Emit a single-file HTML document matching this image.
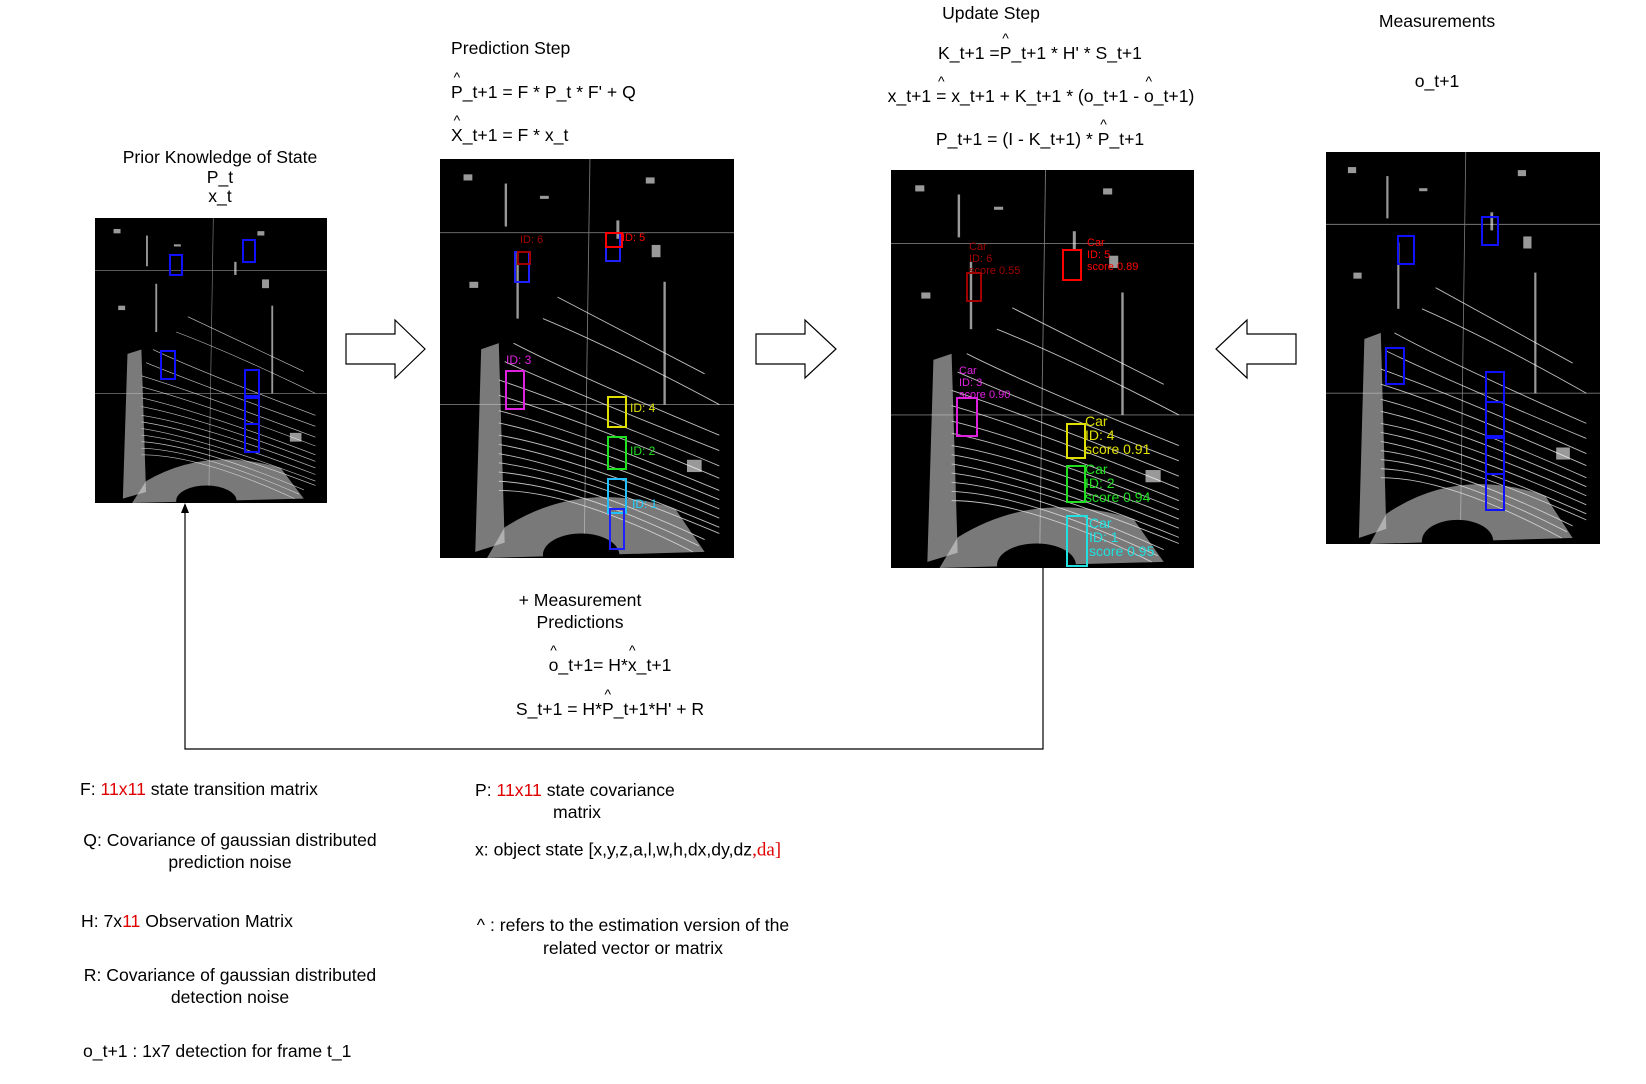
<!DOCTYPE html>
<html><head><meta charset="utf-8"><style>
html,body{margin:0;padding:0;background:#fff}
body{width:1646px;height:1084px;position:relative;overflow:hidden;font-family:"Liberation Sans",sans-serif;font-size:17.6px;color:#000}
.t{position:absolute;white-space:nowrap;line-height:1}
.c{transform:translate(-50%,-50%)}
.l{transform:translateY(-50%)}
.h{position:relative;display:inline-block}
.h::before{content:"^";position:absolute;left:50%;top:-14px;transform:translateX(-50%);font-size:14px}
.r{color:#e00000}
.img{position:absolute;background:#000}
.img svg{display:block}
.lb{font-family:"Liberation Sans",sans-serif}
</style></head><body>
<svg width="0" height="0" style="position:absolute">
<defs>
<symbol id="lidar" viewBox="0 0 100 130" preserveAspectRatio="none">
<rect width="100" height="130" fill="#000"/>
<g stroke="#777" stroke-width="0.3" fill="none">
<line x1="0" y1="24" x2="100" y2="24"/><line x1="0" y1="80" x2="100" y2="80"/>
<line x1="51" y1="0" x2="49" y2="130"/>
</g>
<g stroke="#fff" stroke-width="0.3" fill="none" opacity="0.75">
<path d="M25 60 Q45 70 95 90"/><path d="M22 66 Q45 76 95 95"/><path d="M20 72 Q45 80 95 100"/><path d="M20 77 Q45 84 95 104"/><path d="M20 82 Q45 88 95 108"/><path d="M20 86 Q45 91 95 111"/><path d="M20 90 Q45 94 95 114"/><path d="M20 93 Q45 97 95 117"/><path d="M20 96 Q45 100 95 120"/><path d="M20 99 Q45 102 95 122"/><path d="M20 102 Q45 104 90 124"/><path d="M20 105 Q45 106 88 126"/><path d="M20 108 Q45 108 86 128"/>
<path d="M40 45 Q60 55 90 70"/><path d="M35 52 Q60 62 95 80"/>
</g>
<path d="M14 62 L20 60 L22 125 L12 128 Z" fill="#ccc" opacity="0.6"/>
<path d="M22 120 Q48 104 80 114 L90 128 L16 130 Z" fill="#ddd" opacity="0.55"/>
<ellipse cx="48" cy="129" rx="13" ry="7" fill="#000"/>
<g fill="#fff" opacity="0.6">
<rect x="8" y="5" width="3" height="2"/><rect x="22" y="8" width="0.8" height="14"/><rect x="34" y="12" width="3" height="1"/><rect x="70" y="6" width="3" height="2"/><rect x="72" y="28" width="3" height="4"/><rect x="26" y="30" width="0.8" height="22"/><rect x="76" y="40" width="0.8" height="40"/><rect x="84" y="98" width="5" height="4"/><rect x="10" y="40" width="3" height="2"/><rect x="60" y="20" width="1" height="6"/>
</g>
</symbol>
</defs>
</svg>

<div class="img" style="left:95px;top:218px;width:232px;height:285px">
<svg width="232" height="285"><use href="#lidar" width="232" height="285"/>
<g stroke="#1010ff" stroke-width="2" fill="none">
<rect x="75" y="37" width="12" height="20"/><rect x="148" y="22" width="12" height="22"/>
<rect x="66" y="133" width="14" height="28"/><rect x="150" y="152" width="14" height="26"/><rect x="150" y="180" width="14" height="26"/><rect x="150" y="206" width="14" height="28"/></g></svg></div>

<div class="img" style="left:440px;top:159px;width:294px;height:399px">
<svg width="294" height="399"><use href="#lidar" width="294" height="399"/>
<g fill="none" stroke-width="2">
<rect x="75" y="93" width="14" height="30" stroke="#2020ff"/><rect x="78" y="93" width="12" height="12" stroke="#a00000"/>
<rect x="166" y="74" width="14" height="28" stroke="#2020ff"/><rect x="166" y="74" width="16" height="14" stroke="#ff0000"/>
<rect x="66" y="212" width="18" height="38" stroke="#e020e0"/>
<rect x="168" y="238" width="18" height="30" stroke="#e0e000"/><rect x="168" y="278" width="18" height="32" stroke="#20e020"/><rect x="168" y="320" width="18" height="34" stroke="#20c0ff"/><rect x="170" y="350" width="14" height="40" stroke="#2020ff"/></g>
<g class="lb" font-size="12"><text x="80" y="84" fill="#a00000" font-size="11">ID: 6</text><text x="182" y="82" fill="#ff0000" font-size="11">ID: 5</text><text x="66" y="205" fill="#e020e0">ID: 3</text><text x="190" y="253" fill="#e0e000">ID: 4</text><text x="190" y="296" fill="#20e020">ID: 2</text><text x="192" y="349" fill="#20d0ff">ID: 1</text></g></svg></div>

<div class="img" style="left:891px;top:170px;width:303px;height:398px">
<svg width="303" height="398"><use href="#lidar" width="303" height="398"/>
<g fill="none" stroke-width="2">
<rect x="76" y="103" width="14" height="28" stroke="#a00000"/><rect x="172" y="80" width="18" height="30" stroke="#ff0000"/>
<rect x="66" y="228" width="20" height="38" stroke="#e020e0"/>
<rect x="176" y="254" width="18" height="34" stroke="#e0e000"/><rect x="176" y="296" width="18" height="36" stroke="#20e020"/><rect x="176" y="346" width="20" height="50" stroke="#20e0e0"/></g>
<g class="lb" font-size="11"><text x="78" y="80" fill="#a00000">Car</text><text x="78" y="92" fill="#a00000">ID: 6</text><text x="78" y="104" fill="#a00000">score 0.55</text>
<text x="196" y="76" fill="#ff0000">Car</text><text x="196" y="88" fill="#ff0000">ID: 5</text><text x="196" y="100" fill="#ff0000">score 0.89</text>
<text x="68" y="204" fill="#e020e0">Car</text><text x="68" y="216" fill="#e020e0">ID: 3</text><text x="68" y="228" fill="#e020e0">score 0.90</text></g>
<g class="lb" font-size="14"><text x="194" y="256" fill="#e0e000">Car</text><text x="194" y="270" fill="#e0e000">ID: 4</text><text x="194" y="284" fill="#e0e000">score 0.91</text>
<text x="194" y="304" fill="#20e020">Car</text><text x="194" y="318" fill="#20e020">ID: 2</text><text x="194" y="332" fill="#20e020">score 0.94</text>
<text x="198" y="358" fill="#20e0e0">Car</text><text x="198" y="372" fill="#20e0e0">ID: 1</text><text x="198" y="386" fill="#20e0e0">score 0.95</text></g></svg></div>

<div class="img" style="left:1326px;top:152px;width:274px;height:392px">
<svg width="274" height="392"><use href="#lidar" width="274" height="392"/>
<g stroke="#1010ff" stroke-width="2" fill="none">
<rect x="72" y="84" width="16" height="28"/><rect x="156" y="65" width="16" height="28"/>
<rect x="60" y="196" width="18" height="36"/><rect x="160" y="220" width="18" height="30"/><rect x="160" y="250" width="18" height="34"/><rect x="160" y="286" width="18" height="36"/><rect x="160" y="322" width="18" height="36"/></g></svg></div>

<svg style="position:absolute;left:0;top:0" width="1646" height="1084">
<g fill="#fff" stroke="#000" stroke-width="1.2">
<path d="M346 334 H395 V320 L425 349 L395 378 V364 H346 Z"/>
<path d="M756 334 H805 V320 L836 349 L805 378 V364 H756 Z"/>
<path d="M1296 334 H1247 V320 L1216 349 L1247 378 V364 H1296 Z"/>
</g>
<polyline points="1043,568 1043,749 185,749 185,512" fill="none" stroke="#000" stroke-width="1.2"/>
<path d="M185 503 L181 513 L189 513 Z" fill="#000"/>
</svg>

<div class="t c" style="left:220px;top:158px">Prior Knowledge of State</div>
<div class="t c" style="left:220px;top:178px">P_t</div>
<div class="t c" style="left:220px;top:197px">x_t</div>

<div class="t l" style="left:451px;top:49px">Prediction Step</div>
<div class="t l" style="left:451px;top:93px"><span class="h">P</span>_t+1 = F * P_t * F' + Q</div>
<div class="t l" style="left:451px;top:136px"><span class="h">X</span>_t+1 = F * x_t</div>

<div class="t c" style="left:991px;top:14px">Update Step</div>
<div class="t c" style="left:1040px;top:54px">K_t+1 =<span class="h">P</span>_t+1 * H' * S_t+1</div>
<div class="t c" style="left:1041px;top:97px">x_t+1 <span class="h">=</span> x_t+1 + K_t+1 * (o_t+1 - <span class="h">o</span>_t+1)</div>
<div class="t c" style="left:1040px;top:140px">P_t+1 = (I - K_t+1) * <span class="h">P</span>_t+1</div>

<div class="t c" style="left:1437px;top:22px">Measurements</div>
<div class="t c" style="left:1437px;top:82px">o_t+1</div>

<div class="t c" style="left:580px;top:601px">+ Measurement</div>
<div class="t c" style="left:580px;top:623px">Predictions</div>
<div class="t c" style="left:610px;top:666px"><span class="h">o</span>_t+1= H*<span class="h">x</span>_t+1</div>
<div class="t c" style="left:610px;top:710px">S_t+1 = H*<span class="h">P</span>_t+1*H' + R</div>

<div class="t l" style="left:80px;top:790px">F: <span class="r">11x11</span> state transition matrix</div>
<div class="t c" style="left:230px;top:841px">Q: Covariance of gaussian distributed</div>
<div class="t c" style="left:230px;top:863px">prediction noise</div>
<div class="t l" style="left:81px;top:922px">H: 7x<span class="r">11</span> Observation Matrix</div>
<div class="t c" style="left:230px;top:976px">R: Covariance of gaussian distributed</div>
<div class="t c" style="left:230px;top:998px">detection noise</div>
<div class="t l" style="left:83px;top:1052px">o_t+1 : 1x7 detection for frame t_1</div>

<div class="t l" style="left:475px;top:791px">P: <span class="r">11x11</span> state covariance</div>
<div class="t c" style="left:577px;top:813px">matrix</div>
<div class="t l" style="left:475px;top:850px">x: object state [x,y,z,a,l,w,h,dx,dy,dz<span class="r" style="font-family:'Liberation Serif',serif;font-size:19px">,da]</span></div>
<div class="t c" style="left:633px;top:926px">^ : refers to the estimation version of the</div>
<div class="t c" style="left:633px;top:949px">related vector or matrix</div>
</body></html>
